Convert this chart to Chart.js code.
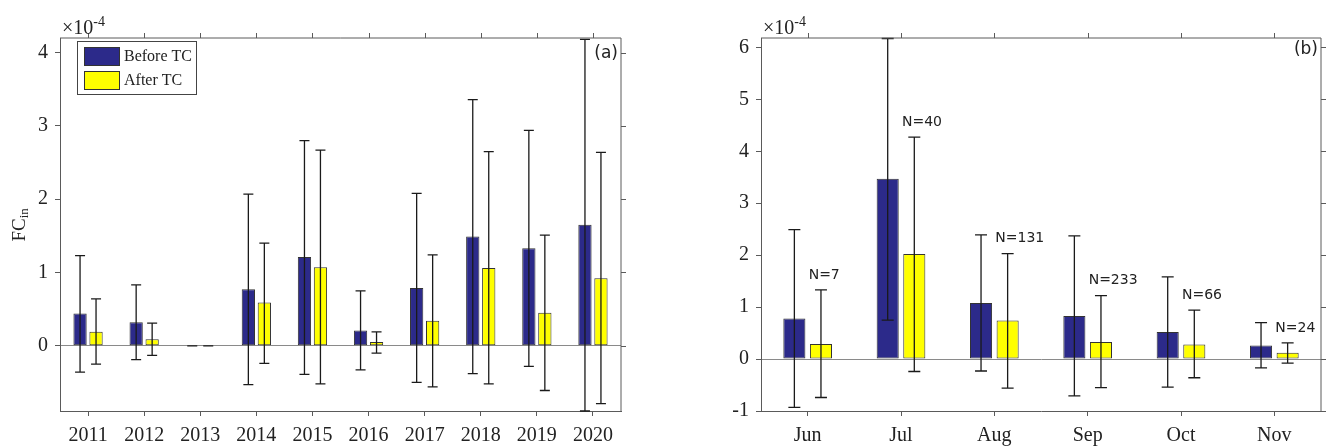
<!DOCTYPE html>
<html>
<head>
<meta charset="utf-8">
<script src="https://cdn.jsdelivr.net/npm/chart.js@4"></script>
<style>
  body { margin: 0; background: #fff; }
  #wrap { position: relative; width: 1330px; height: 446px; }
  canvas { position: absolute; top: 0; }
</style>
</head>
<body>
<div id="wrap">
  <canvas id="yearChart" width="660" height="446" style="left:0"></canvas>
  <canvas id="monthChart" width="670" height="446" style="left:660px"></canvas>
</div>
<script>
// values are in units of 1e-4
const years = ['2011', '2012', '2013', '2014', '2015', '2016', '2017', '2018', '2019', '2020'];
const beforeYear   = [0.44, 0.32, 0, 0.77, 1.21, 0.21, 0.79, 1.49, 1.33, 1.65];
const beforeYearHi = [1.23, 0.83, 0, 2.07, 2.80, 0.75, 2.08, 3.36, 2.94, 4.18];
const beforeYearLo = [-0.36, -0.19, 0, -0.53, -0.39, -0.33, -0.50, -0.38, -0.28, -0.89];
const afterYear    = [0.19, 0.09, 0, 0.59, 1.07, 0.05, 0.34, 1.06, 0.45, 0.92];
const afterYearHi  = [0.64, 0.31, 0, 1.40, 2.67, 0.19, 1.24, 2.65, 1.51, 2.64];
const afterYearLo  = [-0.25, -0.13, 0, -0.24, -0.52, -0.10, -0.56, -0.52, -0.61, -0.79];
const yearTicks = [0, 1, 2, 3, 4];

const months = ['Jun', 'Jul', 'Aug', 'Sep', 'Oct', 'Nov'];
const beforeMonth   = [0.78, 3.47, 1.08, 0.83, 0.52, 0.26];
const beforeMonthHi = [2.49, 6.17, 2.39, 2.37, 1.58, 0.70];
const beforeMonthLo = [-0.93, 0.75, -0.23, -0.71, -0.54, -0.17];
const afterMonth    = [0.29, 2.02, 0.74, 0.33, 0.28, 0.12];
const afterMonthHi  = [1.33, 4.27, 2.03, 1.22, 0.94, 0.31];
const afterMonthLo  = [-0.74, -0.24, -0.56, -0.55, -0.36, -0.08];
const monthN = [7, 40, 131, 233, 66, 24];
const monthTicks = [-1, 0, 1, 2, 3, 4, 5, 6];

const BLUE = '#2c2a8a';
const YELLOW = '#ffff00';
const AXIS = '#5a5a5a';
const INK = '#222';

Chart.defaults.font.family = 'Liberation Serif';
Chart.defaults.color = INK;

// error bars, drawn over the bars
const errorBars = {
  id: 'errorBars',
  afterDatasetsDraw(chart, args, opts) {
    const ctx = chart.ctx;
    const y = chart.scales.y;
    ctx.save();
    ctx.strokeStyle = '#1a1a1a';
    ctx.lineWidth = 1.3;
    chart.data.datasets.forEach((ds, di) => {
      chart.getDatasetMeta(di).data.forEach((bar, i) => {
        const top = y.getPixelForValue(ds.errHi[i]);
        const bot = y.getPixelForValue(ds.errLo[i]);
        ctx.beginPath();
        ctx.moveTo(bar.x, top); ctx.lineTo(bar.x, bot);
        ctx.moveTo(bar.x - opts.cap, top); ctx.lineTo(bar.x + opts.cap, top);
        ctx.moveTo(bar.x - opts.cap, bot); ctx.lineTo(bar.x + opts.cap, bot);
        ctx.stroke();
      });
    });
    ctx.restore();
  }
};

// box, top and right ticks, exponent, panel tag
const frame = {
  id: 'frame',
  afterDraw(chart, args, opts) {
    const ctx = chart.ctx;
    const a = chart.chartArea;
    const x = chart.scales.x, y = chart.scales.y;
    ctx.save();
    ctx.strokeStyle = AXIS;
    ctx.lineWidth = 1;
    ctx.beginPath();
    ctx.moveTo(a.left, a.top); ctx.lineTo(a.right, a.top); ctx.lineTo(a.right, a.bottom);
    x.ticks.forEach((t, i) => {
      const px = Math.round(x.getPixelForValue(i)) + 0.5;
      ctx.moveTo(px, a.top); ctx.lineTo(px, a.top - 5);
    });
    y.ticks.forEach(t => {
      const py = Math.round(y.getPixelForValue(t.value)) + 0.5;
      ctx.moveTo(a.right, py); ctx.lineTo(a.right + 5, py);
    });
    ctx.stroke();

    ctx.fillStyle = INK;
    ctx.textBaseline = 'alphabetic';
    ctx.textAlign = 'left';
    ctx.font = '20px "Liberation Serif"';
    ctx.fillText('\u00d710', a.left + 2, 34);
    const w = ctx.measureText('\u00d710').width;
    ctx.font = '14px "Liberation Serif"';
    ctx.fillText('-4', a.left + 2 + w, 26);

    ctx.font = '17px "DejaVu Sans"';
    ctx.textAlign = 'right';
    ctx.textBaseline = 'middle';
    ctx.fillText(opts.tag, a.right - 3, opts.tagY);
    ctx.restore();
  }
};

const legendBox = {
  id: 'legendBox',
  afterDraw(chart) {
    const ctx = chart.ctx;
    ctx.save();
    ctx.fillStyle = '#fff';
    ctx.strokeStyle = '#444';
    ctx.lineWidth = 1;
    ctx.fillRect(77.5, 41.5, 119, 53);
    ctx.strokeRect(77.5, 41.5, 119, 53);
    ctx.font = '16px "Liberation Serif"';
    ctx.textBaseline = 'middle';
    ctx.textAlign = 'left';
    chart.data.datasets.forEach((ds, i) => {
      const top = 47.5 + i * 24;
      ctx.fillStyle = ds.backgroundColor;
      ctx.fillRect(84.5, top, 35, 18);
      ctx.strokeStyle = '#333';
      ctx.strokeRect(84.5, top, 35, 18);
      ctx.fillStyle = INK;
      ctx.fillText(ds.label, 124, top + 9);
    });
    ctx.restore();
  }
};

const yLabel = {
  id: 'yLabel',
  afterDraw(chart) {
    const ctx = chart.ctx;
    ctx.save();
    ctx.translate(24.5, 241.5);
    ctx.rotate(-Math.PI / 2);
    ctx.fillStyle = INK;
    ctx.textAlign = 'left';
    ctx.font = '19px "Liberation Serif"';
    ctx.fillText('FC', 0, 0);
    const w = ctx.measureText('FC').width;
    ctx.font = '13px "Liberation Serif"';
    ctx.fillText('in', w, 3.5);
    ctx.restore();
  }
};

const nLabels = {
  id: 'nLabels',
  afterDraw(chart) {
    const ctx = chart.ctx;
    const x = chart.scales.x, y = chart.scales.y;
    ctx.save();
    ctx.fillStyle = INK;
    ctx.font = '14px "DejaVu Sans"';
    ctx.textAlign = 'left';
    ctx.textBaseline = 'middle';
    monthN.forEach((n, i) => {
      ctx.fillText('N=' + n, x.getPixelForValue(i) + 1, y.getPixelForValue(afterMonthHi[i]) - 15);
    });
    ctx.restore();
  }
};

function makeOptions(yMin, yMax, yTicks, yAxisWidth, padRight, cap, tag, tagY) {
  return {
    responsive: false,
    animation: false,
    layout: { padding: { left: 0, top: 38, right: padRight, bottom: 0 } },
    plugins: {
      legend: { display: false },
      tooltip: { enabled: false },
      errorBars: { cap: cap },
      frame: { tag: tag, tagY: tagY }
    },
    scales: {
      x: {
        offset: true,
        grid: { display: true, offset: false, drawOnChartArea: false, tickLength: 5, tickColor: AXIS, color: AXIS },
        border: { display: true, color: AXIS },
        ticks: { font: { size: 20 }, padding: 8, color: INK },
        afterFit(s) { s.height = 35; }
      },
      y: {
        min: yMin,
        max: yMax,
        afterBuildTicks(s) { s.ticks = yTicks.map(v => ({ value: v })); },
        grid: {
          drawOnChartArea: true,
          tickLength: 5,
          tickColor: AXIS,
          color: c => (c.tick && c.tick.value === 0) ? '#8a8a8a' : 'rgba(0,0,0,0)'
        },
        border: { display: true, color: AXIS },
        ticks: { font: { size: 20 }, padding: 7, color: INK },
        afterFit(s) { s.width = yAxisWidth; }
      }
    }
  };
}

function barSet(label, color, values, hi, lo) {
  return {
    label: label,
    data: values,
    errHi: hi,
    errLo: lo,
    backgroundColor: color,
    borderColor: '#333',
    borderWidth: 1,
    borderSkipped: false,
    barPercentage: 0.83,
    categoryPercentage: 0.57
  };
}

new Chart(document.getElementById('yearChart').getContext('2d'), {
  type: 'bar',
  data: {
    labels: years,
    datasets: [
      barSet('Before TC', BLUE, beforeYear, beforeYearHi, beforeYearLo),
      barSet('After TC', YELLOW, afterYear, afterYearHi, afterYearLo)
    ]
  },
  options: makeOptions(-0.89, 4.2, yearTicks, 60, 39, 5, '(a)', 54),
  plugins: [errorBars, frame, legendBox, yLabel]
});

new Chart(document.getElementById('monthChart').getContext('2d'), {
  type: 'bar',
  data: {
    labels: months,
    datasets: [
      barSet('Before TC', BLUE, beforeMonth, beforeMonthHi, beforeMonthLo),
      barSet('After TC', YELLOW, afterMonth, afterMonthHi, afterMonthLo)
    ]
  },
  options: makeOptions(-1, 6.18, monthTicks, 101, 9, 6, '(b)', 50),
  plugins: [errorBars, frame, nLabels]
});
</script>
</body>
</html>
